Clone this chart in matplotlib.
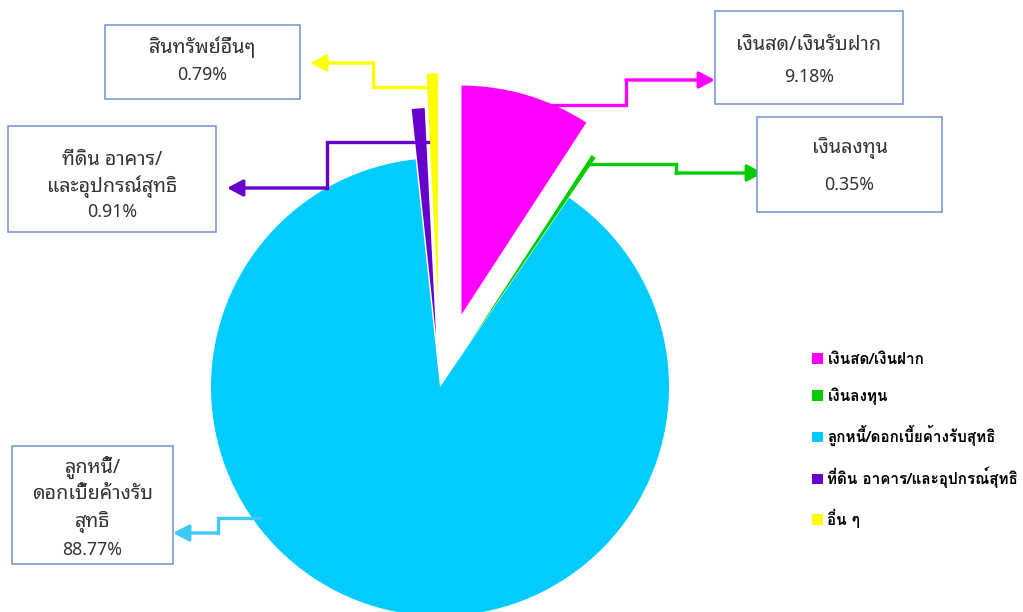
import matplotlib
matplotlib.use("Agg")
import matplotlib.pyplot as plt
from matplotlib.patches import Rectangle

# data
legend_labels = ["เงินสด/เงินฝาก", "เงินลงทุน", "ลูกหนี้/ดอกเบี้ยค้างรับสุทธิ",
                 "ที่ดิน อาคาร/และอุปกรณ์สุทธิ", "อื่น ๆ"]
box_names = [["เงินสด/เงินรับฝาก"], ["เงินลงทุน"],
             ["ลูกหนี้/", "ดอกเบี้ยค้างรับ", "สุทธิ"],
             ["ที่ดิน อาคาร/", "และอุปกรณ์สุทธิ"], ["สินทรัพย์อื่นๆ"]]
shares = [9.18, 0.35, 88.77, 0.91, 0.79]
explode = [0.33, 0.21, 0.0, 0.22, 0.37]
colors = ["#FF00FF", "#00CC00", "#00CCFF", "#6600CC", "#FFFF00"]
line_colors = ["#FF00FF", "#00CC00", "#40C8F8", "#6600CC", "#FFFF00"]

W, H = 1023, 612
R = 229
label_font = ["Noto Sans Thai Looped", "DejaVu Sans"]
legend_font = ["Loma", "DejaVu Sans"]

# layout in pixels (y measured from the top)
boxes = [(715, 11, 188, 93), (757, 117, 185, 95), (12, 446, 161, 118),
         (8, 126, 208, 106), (105, 25, 195, 74)]
line_y = [[45, 77], [148, 185], [467, 494, 522, 550], [160, 187, 212], [47, 75]]
paths = [
    [(545, 105), (626, 105), (626, 80), (715, 80)],
    [(588, 164), (676, 164), (676, 173), (763, 173)],
    [(260, 518), (218, 518), (218, 533), (173, 533)],
    [(428, 142), (327, 142), (327, 188), (227, 188)],
    [(436, 75), (436, 87), (373, 87), (373, 63), (310, 63)],
]


def fy(y):
    return H - y


fig = plt.figure(figsize=(W / 100, H / 100), dpi=100)
ax = fig.add_axes([0, 0, 1, 1])

wedges, _ = ax.pie(shares, explode=[e * R for e in explode], colors=colors,
                   startangle=90, counterclock=False, center=(440, fy(387)),
                   radius=R, wedgeprops=dict(linewidth=0))
ax.set_xlim(0, W)
ax.set_ylim(0, H)
ax.set_aspect("equal")
ax.axis("off")

for i, names in enumerate(box_names):
    x, y, w, h = boxes[i]
    ax.add_patch(Rectangle((x, fy(y + h)), w, h, facecolor="white",
                           edgecolor="#6F95D0", linewidth=1.1, zorder=3))
    lines = names + ["%.2f%%" % shares[i]]
    for j, s in enumerate(lines):
        size = 12.8 if j == len(lines) - 1 else 14.2
        ax.text(x + w / 2, fy(line_y[i][j]), s, ha="center", va="center",
                fontsize=size, color="#333333", family=label_font, zorder=4)

    pts = paths[i]
    xs = [p[0] for p in pts]
    ys = [fy(p[1]) for p in pts]
    ax.plot(xs[:-1], ys[:-1], color=line_colors[i], lw=2.4,
            solid_joinstyle="miter", zorder=2)
    ax.annotate("", xy=(xs[-1], ys[-1]), xytext=(xs[-2], ys[-2]),
                arrowprops=dict(arrowstyle="-|>,head_length=0.95,head_width=0.5",
                                color=line_colors[i], lw=2.4,
                                shrinkA=0, shrinkB=0), zorder=2)

leg = ax.legend(wedges, legend_labels, loc="upper left",
                bbox_to_anchor=(806 / W, 1 - 347 / H), frameon=False,
                prop=dict(family=legend_font, weight="bold", size=11),
                handlelength=0.7, handleheight=0.7, handletextpad=0.3,
                labelspacing=1.33, borderaxespad=0)

fig.savefig("out.png", dpi=100)
